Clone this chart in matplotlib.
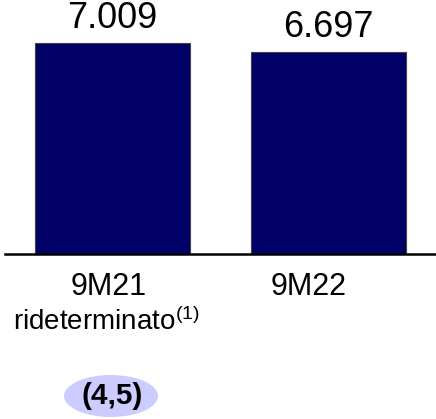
import matplotlib
matplotlib.use("Agg")
import matplotlib.pyplot as plt
from matplotlib.patches import Ellipse

plt.rcParams['font.family'] = ['Liberation Sans', 'DejaVu Sans']
plt.rcParams['mathtext.fontset'] = 'custom'
plt.rcParams['mathtext.rm'] = 'Liberation Sans'
plt.rcParams['mathtext.it'] = 'Liberation Sans'

categories = ["9M21", "9M22"]
subtitles = ["rideterminato", ""]
values = [7.009, 6.697]
value_labels = ["7.009", "6.697"]
delta_label = "(4,5)"

fig = plt.figure(figsize=(4.36, 4.19), dpi=100)
ax = fig.add_axes([5/436, (419-254)/419, 431/436, 254/419])
x = list(range(len(values)))
ax.bar(x, values, width=0.718, color="#000066", edgecolor="#444444", linewidth=0.8, zorder=2)
ax.set_xlim(-0.498, 1.498)
ax.set_ylim(0, 7.009 * 254 / 211)
for s in ["top", "right", "left"]:
    ax.spines[s].set_visible(False)
ax.spines["bottom"].set_linewidth(1.8)
ax.spines["bottom"].set_color("black")
ax.set_yticks([])
ax.set_xticks([])

for xi, v, lab in zip(x, values, value_labels):
    ax.annotate(lab, (xi, v), xytext=(0, 5), textcoords="offset points",
                ha="center", va="bottom", fontsize=26, color="black")

# category labels (in figure pixel coordinates)
cat_x = [109, 309]
for cx, c in zip(cat_x, categories):
    fig.text(cx/436, 1 - 287/419, c, ha="center", va="center", fontsize=22)
fig.text(106/436, 1 - 322/419, subtitles[0] + r"$^{(1)}$", ha="center", va="center", fontsize=20)

ell = Ellipse((111/436, 1 - 396/419), 94/436, 42/419, transform=fig.transFigure,
              facecolor="#ccccff", edgecolor="none")
fig.patches.append(ell)
fig.text(112/436, 1 - 396/419, delta_label, ha="center", va="center", fontsize=21.5, fontweight="bold")

fig.savefig("out.png", dpi=100)
